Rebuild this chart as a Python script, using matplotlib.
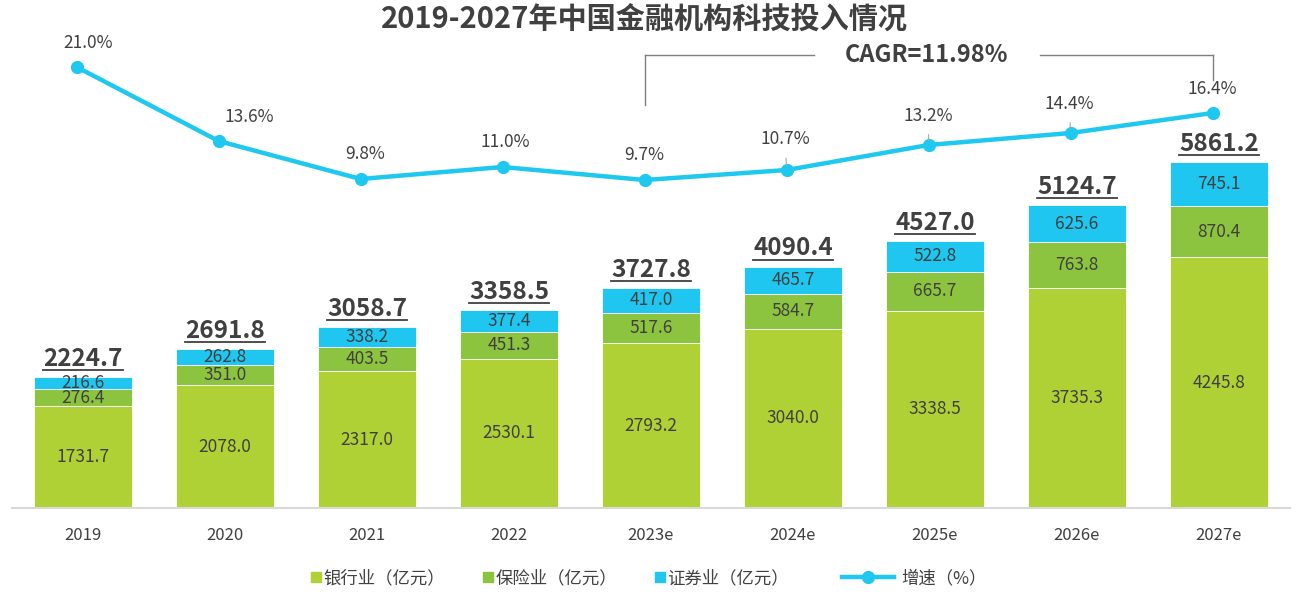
import numpy as np
import matplotlib.pyplot as plt
from matplotlib.lines import Line2D

plt.rcParams['font.family'] = ['Noto Sans CJK SC', 'DejaVu Sans']

years = ['2019', '2020', '2021', '2022', '2023e', '2024e', '2025e', '2026e', '2027e']
bank = [1731.7, 2078.0, 2317.0, 2530.1, 2793.2, 3040.0, 3338.5, 3735.3, 4245.8]
insurance = [276.4, 351.0, 403.5, 451.3, 517.6, 584.7, 665.7, 763.8, 870.4]
securities = [216.6, 262.8, 338.2, 377.4, 417.0, 465.7, 522.8, 625.6, 745.1]
totals = [2224.7, 2691.8, 3058.7, 3358.5, 3727.8, 4090.4, 4527.0, 5124.7, 5861.2]
growth = [21.0, 13.6, 9.8, 11.0, 9.7, 10.7, 13.2, 14.4, 16.4]
cagr_text = 'CAGR=11.98%'

c_bank = '#B0D136'
c_ins = '#8CC43F'
c_sec = '#1FC6EF'
c_line = '#1FC8EE'
c_text = '#404040'

fig = plt.figure(figsize=(12.97, 5.99), dpi=100)
ax = fig.add_axes([12 / 1297, 91 / 599, 1278 / 1297, 488 / 599])
x = np.arange(len(years))
w = 0.69

bank = np.array(bank)
insurance = np.array(insurance)
securities = np.array(securities)

ax.bar(x, bank, w, color=c_bank, edgecolor='white', linewidth=0.6)
ax.bar(x, insurance, w, bottom=bank, color=c_ins, edgecolor='white', linewidth=0.6)
ax.bar(x, securities, w, bottom=bank + insurance, color=c_sec, edgecolor='white', linewidth=0.6)

for i in range(len(x)):
    ax.text(x[i], bank[i] / 2, f'{bank[i]:.1f}', ha='center', va='center', fontsize=12.5, color=c_text)
    ax.text(x[i], bank[i] + insurance[i] / 2, f'{insurance[i]:.1f}', ha='center', va='center',
            fontsize=12.5, color=c_text)
    ax.text(x[i], bank[i] + insurance[i] + securities[i] / 2, f'{securities[i]:.1f}', ha='center',
            va='center', fontsize=12.5, color=c_text)

total_texts = []
for i in range(len(x)):
    t = ax.annotate(f'{totals[i]:.1f}', (x[i], totals[i]), xytext=(0, 8), textcoords='offset points',
                    ha='center', va='baseline', fontsize=17.5, fontweight='bold', color=c_text)
    total_texts.append(t)

ax.set_xlim(-0.5, len(years) - 0.5)
ax.set_ylim(0, 8267)
ax.set_xticks(x)
ax.set_xticklabels(years, fontsize=12, color=c_text)
ax.tick_params(axis='x', length=0, pad=14)
ax.set_yticks([])
for s in ['top', 'right', 'left']:
    ax.spines[s].set_visible(False)
ax.spines['bottom'].set_color('#D9D9D9')
ax.spines['bottom'].set_linewidth(1.5)

# growth line on its own scale
ax2 = ax.twinx()
ax2.set_ylim(-23.1, 25.7)
ax2.set_yticks([])
for s in ax2.spines.values():
    s.set_visible(False)
shift = -0.045
ax2.plot(x + shift, growth, color=c_line, lw=3.2, marker='o', markersize=8.5, solid_capstyle='round')

label_dx = [8, 22, 3, 2, 0, -1, 0, -1, 0]
label_dy = [17, 17, 18, 18, 18, 22, 21, 21, 17]
for i in range(len(x)):
    arrow = None
    if i in (5, 6, 7):
        arrow = dict(arrowstyle='-', color='#A6A6A6', lw=0.8, shrinkA=5, shrinkB=3)
    ax2.annotate(f'{growth[i]:.1f}%', (x[i] + shift, growth[i]), xytext=(label_dx[i], label_dy[i]),
                 textcoords='offset points', ha='center', va='center', fontsize=12.5, color=c_text,
                 arrowprops=arrow)

# CAGR bracket
left_x = x[4] + shift
right_x = x[8] + shift
top_y = 22.2
ax2.plot([left_x, left_x], [top_y, 17.2], color='#7F7F7F', lw=1)
ax2.plot([right_x, right_x], [top_y, 19.7], color='#7F7F7F', lw=1)
ax2.plot([left_x, 5.15], [top_y, top_y], color='#7F7F7F', lw=1)
ax2.plot([6.74, right_x], [top_y, top_y], color='#7F7F7F', lw=1)
ax2.text(5.94, top_y, cagr_text, ha='center', va='center', fontsize=17, fontweight='bold', color=c_text)

fig.text(0.497, 0.968, '2019-2027年中国金融机构科技投入情况', ha='center', va='center',
         fontsize=21, fontweight='bold', color=c_text)

# legends
sq = dict(marker='s', linestyle='none', markersize=7)
h_bars = [Line2D([], [], color=c_bank, **sq),
          Line2D([], [], color=c_ins, **sq),
          Line2D([], [], color=c_sec, **sq)]
fig.legend(h_bars, ['银行业（亿元）', '保险业（亿元）', '证券业（亿元）'], ncol=3,
           loc='center', bbox_to_anchor=(0.424, 0.035), frameon=False, fontsize=12.5,
           handlelength=0.6, handletextpad=0.1, columnspacing=2.2, labelcolor=c_text)
h_line = [Line2D([], [], color=c_line, lw=3.2, marker='o', markersize=8.5)]
fig.legend(h_line, ['增速（%）'], loc='center', bbox_to_anchor=(0.705, 0.035), frameon=False,
           fontsize=12.5, handlelength=3.0, handletextpad=0.4, labelcolor=c_text)

# underline the totals
fig.canvas.draw()
r = fig.canvas.get_renderer()
for i, t in enumerate(total_texts):
    bb = t.get_window_extent(renderer=r)
    y_px = ax.transData.transform((x[i], totals[i]))[1] + 7
    fig.add_artist(Line2D([bb.x0 / 1297, bb.x1 / 1297], [y_px / 599, y_px / 599],
                          transform=fig.transFigure, color=c_text, lw=1.3))

fig.savefig('out.png', dpi=100)
